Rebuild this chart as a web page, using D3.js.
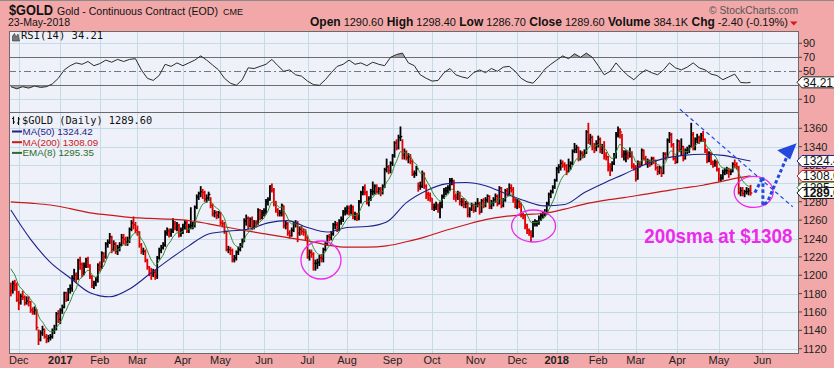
<!DOCTYPE html>
<html>
<head>
<meta charset="utf-8">
<script src="https://cdn.jsdelivr.net/npm/d3@7"></script>
<style>
body { margin: 0; background: #f2a8a8; }
svg { display: block; font-family: "Liberation Sans", Arial, sans-serif; }
</style>
</head>
<body>
<svg width="834" height="368"></svg>
<script>
// daily $GOLD bars, 25-Nov-2016 .. 23-May-2018 (trading days)
var closes = [
  1183,1191,1189,1173,
  1170,1177,1176,1170,1172,1171,1162,1160,1162,1143,1130,1137,1141,1133,1131,1132,1133,1139,1141,1158,1152,
  1162,1165,1181,1173,1185,1186,1196,1200,1196,1216,1212,1202,1210,1216,1211,1199,1189,1191,1195,1211,
  1209,1224,1220,1234,1236,1242,1228,1234,1226,1230,1233,1241,1239,1236,1237,1250,1257,1255,1249,
  1247,1233,1226,1226,1216,1209,1202,1201,1203,1199,1219,1227,1230,1233,1246,1248,1245,1248,1256,1252,1254,1244,1249,
  1253,1257,1248,1253,1254,1254,1274,1285,1289,1291,1290,1283,1284,1288,1276,1267,1268,1265,1268,
  1257,1256,1248,1228,1228,1227,1217,1219,1225,1228,1232,1237,1259,1262,1254,1261,1252,1257,1256,1271,1263,1268,
  1270,1280,1282,1297,1293,1278,1271,1268,1268,1276,1254,1256,1246,1243,1249,1256,1256,1246,1250,1248,1247,1241,
  1220,1225,1223,1213,1213,1214,1219,1218,1228,1234,1242,1241,1245,1255,1255,1250,1259,1261,1269,1270,
  1273,1269,1274,1264,1265,1262,1280,1290,1295,1290,1279,1283,1291,1291,1297,1291,1294,1290,1297,1315,1318,1314,1322,
  1330,1344,1339,1350,1351,1331,1334,1328,1329,1324,1310,1311,1316,1297,1297,1311,1297,1288,1287,1284,
  1274,1274,1276,1273,1275,1286,1292,1292,1295,1303,1303,1286,1285,1289,1280,1280,1277,1278,1266,1272,1276,1271,
  1277,1278,1269,1281,1276,1282,1286,1275,1279,1282,1286,1278,1295,1276,1282,1292,1288,1295,1293,1282,1275,
  1280,1278,1266,1265,1253,1249,1247,1243,1257,1257,1257,1262,1265,1268,1268,1278,1288,1291,1296,1303,
  1316,1318,1322,1320,1319,1313,1319,1322,1335,1337,1339,1327,1333,1331,1333,1356,1348,1350,1340,1339,1343,
  1348,1337,1340,1330,1329,1318,1316,1322,1331,1353,1358,1356,1331,1332,1332,1330,1333,1319,1318,
  1305,1323,1320,1336,1327,1322,1324,1320,1327,1324,1317,1313,1317,1311,1332,1328,1347,1353,1342,1327,1323,
  1346,1337,1340,1327,1336,1336,1340,1353,1338,1348,1350,1347,1352,1348,1336,1325,1333,1323,1321,1323,1315,
  1305,1306,1312,1314,1314,1313,1313,1321,1320,1318,1290,1292,1289,1291,1291,1292,1289.6
];
var highs = [
  1192,1194,1195,1192,
  1183,1180,1183,1178,1177,1177,1172,1165,1166,1163,1141,1140,1145,1142,1136,1135,1136,1142,1146,1160,1162,
  1164,1168,1182,1182,1186,1190,1200,1207,1203,1218,1220,1214,1214,1219,1220,1212,1200,1194,1198,1213,
  1215,1226,1225,1236,1239,1246,1243,1238,1236,1233,1236,1245,1245,1242,1242,1252,1260,1264,1258,
  1254,1248,1235,1230,1228,1218,1210,1208,1207,1206,1221,1230,1233,1236,1249,1252,1251,1251,1262,1259,1258,1256,1252,
  1256,1260,1259,1256,1274,1258,1276,1288,1291,1297,1294,1292,1288,1291,1285,1278,1271,1270,1270,
  1269,1260,1258,1248,1232,1231,1229,1222,1227,1231,1235,1240,1262,1266,1264,1263,1264,1260,1260,1273,1272,1271,
  1273,1283,1285,1298,1300,1295,1281,1273,1271,1278,1276,1259,1258,1249,1252,1258,1260,1259,1253,1254,1251,1250,
  1243,1228,1228,1225,1217,1218,1222,1223,1230,1236,1244,1245,1248,1257,1259,1258,1261,1264,1271,1274,
  1276,1276,1277,1276,1269,1268,1282,1292,1297,1299,1292,1286,1294,1302,1299,1299,1296,1296,1299,1317,1327,1320,1324,
  1332,1346,1348,1353,1362,1348,1338,1336,1333,1332,1326,1314,1319,1301,1302,1314,1312,1299,1291,1290,
  1284,1278,1280,1278,1280,1288,1295,1296,1298,1306,1306,1304,1289,1292,1291,1284,1284,1281,1280,1274,1279,1278,
  1280,1284,1280,1283,1284,1285,1288,1287,1282,1285,1289,1288,1297,1296,1284,1294,1295,1300,1299,1296,1285,
  1283,1282,1279,1268,1266,1256,1251,1249,1259,1261,1260,1265,1268,1270,1272,1280,1290,1293,1298,1305,
  1318,1321,1326,1325,1323,1321,1327,1324,1337,1344,1342,1340,1336,1335,1337,1358,1366,1354,1352,1344,1347,
  1352,1350,1343,1346,1334,1330,1322,1324,1333,1356,1362,1360,1354,1336,1336,1335,1339,1335,1322,
  1320,1325,1324,1338,1337,1330,1327,1326,1329,1329,1326,1319,1319,1318,1334,1334,1349,1356,1355,1344,1329,
  1348,1347,1349,1341,1338,1340,1342,1366,1356,1350,1354,1352,1355,1357,1349,1338,1335,1334,1325,1326,1325,
  1317,1310,1315,1317,1318,1317,1316,1323,1326,1323,1319,1296,1296,1293,1296,1295,1298.4
];
var lows = [
  1177,1180,1183,1171,
  1162,1168,1173,1167,1168,1166,1159,1157,1157,1140,1124,1128,1134,1131,1126,1127,1129,1131,1136,1140,1148,
  1147,1158,1164,1171,1172,1180,1182,1194,1192,1195,1206,1198,1200,1208,1208,1196,1186,1185,1188,1192,
  1204,1207,1214,1218,1230,1234,1224,1226,1223,1222,1226,1232,1234,1232,1232,1235,1248,1250,1246,
  1243,1230,1223,1222,1214,1206,1199,1195,1198,1195,1196,1217,1224,1228,1231,1243,1241,1242,1246,1249,1248,1241,1242,
  1245,1250,1246,1246,1250,1250,1252,1272,1282,1285,1283,1280,1279,1281,1273,1264,1263,1261,1262,
  1254,1252,1245,1226,1224,1222,1214,1214,1216,1222,1226,1230,1236,1254,1250,1252,1249,1250,1252,1255,1260,1261,
  1264,1266,1276,1281,1290,1275,1268,1264,1264,1264,1251,1250,1243,1240,1242,1247,1252,1236,1243,1244,1243,1238,
  1218,1216,1219,1205,1205,1207,1210,1214,1214,1226,1232,1237,1238,1243,1250,1247,1248,1255,1258,1265,
  1266,1265,1266,1261,1260,1259,1260,1278,1287,1287,1277,1275,1281,1287,1288,1289,1288,1286,1288,1295,1312,1310,1311,
  1319,1328,1336,1337,1346,1326,1326,1325,1322,1321,1308,1306,1308,1291,1293,1295,1294,1283,1281,1280,
  1271,1270,1271,1268,1262,1273,1283,1287,1289,1292,1298,1282,1280,1282,1276,1275,1273,1273,1263,1263,1270,1268,
  1269,1274,1266,1268,1273,1274,1279,1272,1272,1275,1279,1275,1277,1273,1274,1280,1286,1286,1290,1279,1273,
  1272,1273,1263,1261,1250,1245,1243,1236,1241,1253,1253,1255,1259,1262,1264,1266,1276,1284,1289,1294,
  1302,1311,1314,1317,1314,1309,1312,1315,1320,1333,1333,1324,1325,1327,1328,1332,1343,1342,1336,1333,1335,
  1339,1333,1332,1326,1325,1313,1308,1313,1320,1327,1350,1349,1328,1325,1323,1326,1328,1316,1314,
  1302,1304,1317,1319,1325,1320,1317,1318,1320,1321,1314,1309,1310,1307,1310,1325,1328,1344,1339,1325,1321,
  1322,1334,1330,1324,1326,1332,1333,1339,1336,1336,1344,1343,1345,1345,1333,1322,1323,1320,1317,1318,1313,
  1302,1302,1304,1309,1310,1306,1309,1312,1317,1315,1288,1286,1286,1285,1288,1287,1286.7
];
var prevClose = 1188;   // close before the first bar
var emaSeed = 1214;     // EMA(8) carried in from before the window

// moving averages read every 10th bar (last point = last bar)
var ma50 = [1271,1239,1214,1197,1181,1176.5,1185,1201,1217,1232,1245,1248,1250,1257,1259.5,1252,1247,1252,1253,1258,
  1279,1292,1299.5,1301,1297.5,1289,1281,1275.5,1277,1290,1300.5,1310,1320,1327,1330.5,1331.7,1330.5,1326,1324.4];
var ma200 = [1280,1278.5,1276.5,1272.5,1268,1265.5,1263,1262,1261,1259.5,1256,1252,1248,1244.5,1241,1237.5,1233,1230.5,1230.5,1232,
  1236.5,1242,1249,1255,1260.5,1264,1266,1267.5,1272,1277.5,1281.5,1284.5,1288,1291.5,1295,1298,1302.5,1306.8,1308.1];

// RSI(14) read every 3rd bar (last point = last bar)
var rsi = [28,25,28,26,29,27,28,32,40,52,58,62,60,64,58,61,66,63,67,64,67,68,52,40,37,44,60,57,62,58,
  62,66,72,66,59,52,40,33,30,38,55,54,57,60,67,58,50,52,45,43,36,31,30,38,48,57,60,66,60,62,
  58,63,60,58,70,74,76,62,58,45,40,36,37,48,54,45,42,40,48,52,48,54,50,56,57,50,40,35,33,42,
  53,60,66,72,68,75,70,76,70,58,45,50,62,52,44,38,46,52,48,45,52,62,55,52,56,62,55,52,46,44,
  38,42,46,34,33.5,34.21];

// month labels: [label, index of first trading day, bold]
var months = [["Dec",4,0],["2017",25,1],["Feb",45,0],["Mar",64,0],["Apr",87,0],["May",106,0],["Jun",128,0],
  ["Jul",150,0],["Aug",170,0],["Sep",193,0],["Oct",213,0],["Nov",235,0],["Dec",256,0],["2018",276,1],
  ["Feb",297,0],["Mar",316,0],["Apr",337,0],["May",358,0],["Jun",380,0]];
var priceTicks = d3.range(1120, 1361, 20);
var rsiTicks = [90, 70, 50, 10];

var svg = d3.select("svg");
var L = 9, R = 799, rsiTop = 31, split = 112, bottom = 354;
var panelBg = "#eef1f9", gridCol = "#c6dbe6";

var x = d3.scaleLinear().domain([0, 398.5]).range([10.85, 799]);
var y = d3.scaleLinear().domain([1120, 1360]).range([348.7, 128.3]);
var yr = d3.scaleLinear().domain([30, 70]).range([85.3, 57.3]);

var n = closes.length;
var maDays = d3.range(0, n - 1, 10).concat([n - 1]);
var rsiDays = d3.range(0, n - 1, 3).concat([n - 1]);

// EMA(8) of the closes
var ema = [], e = emaSeed, k = 2 / 9;
closes.forEach(function (c) { e = e + k * (c - e); ema.push(e); });

svg.append("rect").attr("width", 834).attr("height", 368).attr("fill", "#f2a8a8");
svg.append("line").attr("x1", 0).attr("x2", 834).attr("y1", 0.5).attr("y2", 0.5).attr("stroke", "#8a8a8a");

var defs = svg.append("defs");
defs.append("clipPath").attr("id", "cp").append("rect")
  .attr("x", L).attr("y", split).attr("width", R - L).attr("height", bottom - split);
defs.append("clipPath").attr("id", "cr").append("rect")
  .attr("x", L).attr("y", rsiTop).attr("width", R - L).attr("height", split - rsiTop);
defs.append("clipPath").attr("id", "cHi").append("rect")
  .attr("x", L).attr("y", rsiTop).attr("width", R - L).attr("height", yr(70) - rsiTop);
defs.append("clipPath").attr("id", "cLo").append("rect")
  .attr("x", L).attr("y", yr(30)).attr("width", R - L).attr("height", split - yr(30));

// panels
svg.append("rect").attr("x", L).attr("y", rsiTop).attr("width", R - L).attr("height", split - rsiTop).attr("fill", panelBg);
svg.append("rect").attr("x", L).attr("y", split).attr("width", R - L).attr("height", bottom - split).attr("fill", panelBg);

// grid
var grid = svg.append("g").attr("stroke", gridCol).attr("stroke-width", 1);
months.forEach(function (m) {
  var gx = Math.round(x(m[1])) + 0.5;
  if (gx > R) return;
  grid.append("line").attr("x1", gx).attr("x2", gx).attr("y1", rsiTop).attr("y2", bottom);
});
priceTicks.forEach(function (t) {
  var gy = Math.round(y(t)) + 0.5;
  grid.append("line").attr("x1", L).attr("x2", R).attr("y1", gy).attr("y2", gy);
});
[90, 10].forEach(function (t) {
  var gy = Math.round(yr(t)) + 0.5;
  grid.append("line").attr("x1", L).attr("x2", R).attr("y1", gy).attr("y2", gy);
});

// RSI panel
var rg = svg.append("g").attr("clip-path", "url(#cr)");
[70, 30].forEach(function (t) {
  rg.append("line").attr("x1", L).attr("x2", R).attr("y1", Math.round(yr(t)) + 0.5).attr("y2", Math.round(yr(t)) + 0.5)
    .attr("stroke", "#6a6a6a");
});
rg.append("line").attr("x1", L).attr("x2", R).attr("y1", Math.round(yr(50)) + 0.5).attr("y2", Math.round(yr(50)) + 0.5)
  .attr("stroke", "#777").attr("stroke-dasharray", "7,3,2,3");
var rsiPts = rsiDays.map(function (d, i) { return [d, rsi[i]]; });
rg.append("path").datum(rsiPts).attr("clip-path", "url(#cHi)").attr("fill", "#8c8690").attr("opacity", 0.75)
  .attr("d", d3.area().x(function (d) { return x(d[0]); }).y0(yr(70)).y1(function (d) { return yr(d[1]); }));
rg.append("path").datum(rsiPts).attr("clip-path", "url(#cLo)").attr("fill", "#8c8690").attr("opacity", 0.75)
  .attr("d", d3.area().x(function (d) { return x(d[0]); }).y0(yr(30)).y1(function (d) { return yr(d[1]); }));
rg.append("path").datum(rsiPts).attr("fill", "none").attr("stroke", "#2b2b2b").attr("stroke-width", 1)
  .attr("d", d3.line().x(function (d) { return x(d[0]); }).y(function (d) { return yr(d[1]); }));

// price bars
var pg = svg.append("g").attr("clip-path", "url(#cp)");
var bars = pg.append("g").selectAll("g").data(closes).join("g")
  .attr("stroke", function (c, i) { return c < (i ? closes[i - 1] : prevClose) ? "#e00000" : "#000"; });
bars.append("line")
  .attr("x1", function (c, i) { return x(i); }).attr("x2", function (c, i) { return x(i); })
  .attr("y1", function (c, i) { return y(Math.max(highs[i], c)); })
  .attr("y2", function (c, i) { return y(Math.min(lows[i], c)); })
  .attr("stroke-width", 1.8);
bars.append("line")
  .attr("x1", function (c, i) { return x(i); }).attr("x2", function (c, i) { return x(i) + 1.8; })
  .attr("y1", function (c) { return y(c); }).attr("y2", function (c) { return y(c); })
  .attr("stroke-width", 1.4);

var lineMA = d3.line().x(function (d) { return x(d[0]); }).y(function (d) { return y(d[1]); }).curve(d3.curveMonotoneX);
pg.append("path").datum(maDays.map(function (d, i) { return [d, ma200[i]]; }))
  .attr("fill", "none").attr("stroke", "#c81818").attr("stroke-width", 1.2).attr("d", lineMA);
pg.append("path").datum(maDays.map(function (d, i) { return [d, ma50[i]]; }))
  .attr("fill", "none").attr("stroke", "#1e2288").attr("stroke-width", 1.1).attr("d", lineMA);
pg.append("path").datum(ema.map(function (v, i) { return [i, v]; }))
  .attr("fill", "none").attr("stroke", "#2f8a2f").attr("stroke-width", 1).attr("d", lineMA);

// panel borders
svg.append("rect").attr("x", L + 0.5).attr("y", rsiTop + 0.5).attr("width", R - L - 1).attr("height", bottom - rsiTop - 1)
  .attr("fill", "none").attr("stroke", "#6b6b6b");
svg.append("line").attr("x1", L).attr("x2", R).attr("y1", split + 0.5).attr("y2", split + 0.5).attr("stroke", "#6b6b6b");

// right axes
var ax = svg.append("g").attr("font-size", 11).attr("fill", "#222");
priceTicks.forEach(function (t) {
  ax.append("line").attr("x1", R).attr("x2", R + 3).attr("y1", y(t)).attr("y2", y(t)).attr("stroke", "#444");
  ax.append("text").attr("x", R + 4).attr("y", y(t) + 4).text(t);
});
rsiTicks.forEach(function (t) {
  ax.append("line").attr("x1", R).attr("x2", R + 3).attr("y1", yr(t)).attr("y2", yr(t)).attr("stroke", "#444");
  ax.append("text").attr("x", R + 4).attr("y", yr(t) + 4).text(t);
});

// bottom month labels
svg.append("g").attr("font-size", 11).attr("fill", "#222").selectAll("text").data(months).join("text")
  .attr("x", function (m) { return x(m[1]); }).attr("y", 364).attr("text-anchor", "middle")
  .attr("font-weight", function (m) { return m[2] ? "bold" : "normal"; })
  .text(function (m) { return m[0]; });

// value tags on the right edge
function tag(yy, label, col, bold) {
  var h = 5.5;
  svg.append("path").attr("d", "M" + (R - 2) + "," + yy + "L" + (R + 3) + "," + (yy - h) + "H840V" + (yy + h) + "H" + (R + 3) + "Z")
    .attr("fill", "#fff").attr("stroke", col).attr("stroke-width", 1);
  svg.append("text").attr("x", R + 4).attr("y", yy + 4.5).attr("font-size", 12)
    .attr("font-weight", bold ? "bold" : "normal").attr("fill", "#111").text(label);
}
tag(yr(34.21), "34.21", "#222", false);
tag(y(1324.42), "1324.4", "#1e2288", false);
tag(y(1308.09), "1308.0", "#c81818", false);
tag(y(1295.35), "1295.3", "#2f8a2f", false);
tag(y(1289.6), "1289.6", "#111", true);

// header
svg.append("text").attr("x", 9).attr("y", 15).attr("font-size", 14).attr("font-weight", "bold")
  .attr("fill", "#111").attr("textLength", 44).attr("lengthAdjust", "spacingAndGlyphs").text("$GOLD");
svg.append("text").attr("x", 57).attr("y", 15).attr("font-size", 11).attr("fill", "#111")
  .attr("textLength", 161).attr("lengthAdjust", "spacingAndGlyphs").text("Gold - Continuous Contract (EOD)");
svg.append("text").attr("x", 223).attr("y", 15).attr("font-size", 9).attr("fill", "#111").text("CME");
svg.append("text").attr("x", 8).attr("y", 26).attr("font-size", 11).attr("fill", "#111")
  .attr("textLength", 62).attr("lengthAdjust", "spacingAndGlyphs").text("23-May-2018");
svg.append("text").attr("x", 709).attr("y", 14).attr("font-size", 11).attr("fill", "#555")
  .attr("textLength", 89).attr("lengthAdjust", "spacingAndGlyphs").text("\u00a9 StockCharts.com");

var quote = [["Open", "1290.60"], ["High", "1298.40"], ["Low", "1286.70"], ["Close", "1289.60"],
  ["Volume", "384.1K"], ["Chg", "-2.40 (-0.19%)"]];
var qt = svg.append("text").attr("x", 310).attr("y", 26).attr("font-size", 11).attr("fill", "#111")
  .attr("textLength", 478).attr("lengthAdjust", "spacingAndGlyphs");
quote.forEach(function (q, i) {
  qt.append("tspan").attr("font-weight", "bold").attr("font-size", 12).text((i ? " " : "") + q[0]);
  qt.append("tspan").text(" " + q[1]);
});
svg.append("path").attr("d", "M790,21.5H797.5L793.75,25.5Z").attr("fill", "#d21a1a");

// panel legends
svg.append("path").attr("d", "M12.5,41V36L14.5,33.5L16,37L18,34L19.5,41Z").attr("fill", "#777").attr("stroke", "#333").attr("stroke-width", 0.6);
svg.append("text").attr("x", 21).attr("y", 39).attr("font-family", "DejaVu Sans Mono, monospace")
  .attr("font-size", 10.5).attr("fill", "#111").text("RSI(14) 34.21");
svg.append("path").attr("d", "M13.5,116.5V124M12,118.5H13.5M13.5,122H15M18.5,117V125M17,123H18.5M18.5,119H20")
  .attr("stroke", "#111").attr("stroke-width", 1.1).attr("fill", "none");
svg.append("text").attr("x", 22).attr("y", 124).attr("font-family", "DejaVu Sans Mono, monospace")
  .attr("font-size", 10.3).attr("fill", "#111").text("$GOLD (Daily) 1289.60");
var legend = [["MA(50) 1324.42", "#1e2288"], ["MA(200) 1308.09", "#c81818"], ["EMA(8) 1295.35", "#2a6e2a"]];
legend.forEach(function (l, i) {
  var ly = 135 + i * 10.7;
  svg.append("line").attr("x1", 12).attr("x2", 22).attr("y1", ly - 3.5).attr("y2", ly - 3.5)
    .attr("stroke", l[1]).attr("stroke-width", 2);
  svg.append("text").attr("x", 22.5).attr("y", ly).attr("font-size", 9.8).attr("fill", l[1]).text(l[0]);
});

// annotations, placed in bar index / price units
var magenta = "#ec2aec", blue = "#2447dc";
var circles = [[156.8, 1216.6, 20, 19], [264.3, 1253.6, 22, 16], [375.6, 1290.7, 19.5, 15.5]];
circles.forEach(function (c) {
  svg.append("ellipse").attr("cx", x(c[0])).attr("cy", y(c[1])).attr("rx", c[2]).attr("ry", c[3])
    .attr("fill", "none").attr("stroke", magenta).attr("stroke-width", 1.3);
});
var trend = [[338.3, 1380.7], [395.3, 1274.6]];
svg.append("line").attr("x1", x(trend[0][0])).attr("y1", y(trend[0][1]))
  .attr("x2", x(trend[1][0])).attr("y2", y(trend[1][1]))
  .attr("stroke", blue).attr("stroke-width", 1.2).attr("stroke-dasharray", "4,3");
var arrowPath = [[376.2, 1290], [380.3, 1307], [380.2, 1276], [382.6, 1280], [392.8, 1331]];
svg.append("path").datum(arrowPath).attr("fill", "none").attr("stroke", blue).attr("stroke-width", 3)
  .attr("stroke-dasharray", "3.5,2.5")
  .attr("d", d3.line().x(function (d) { return x(d[0]); }).y(function (d) { return y(d[1]); }));
var tip = [397.3, 1343.7], base = [[387.5, 1336], [394, 1326]];
svg.append("path").attr("fill", blue)
  .attr("d", "M" + x(tip[0]) + "," + y(tip[1]) + "L" + x(base[0][0]) + "," + y(base[0][1]) + "L" + x(base[1][0]) + "," + y(base[1][1]) + "Z");
svg.append("text").attr("x", x(320.3)).attr("y", y(1235.6)).attr("font-size", 20.5).attr("font-weight", "bold")
  .attr("fill", magenta).attr("textLength", 148).attr("lengthAdjust", "spacingAndGlyphs").text("200sma at $1308");
</script>
</body>
</html>
